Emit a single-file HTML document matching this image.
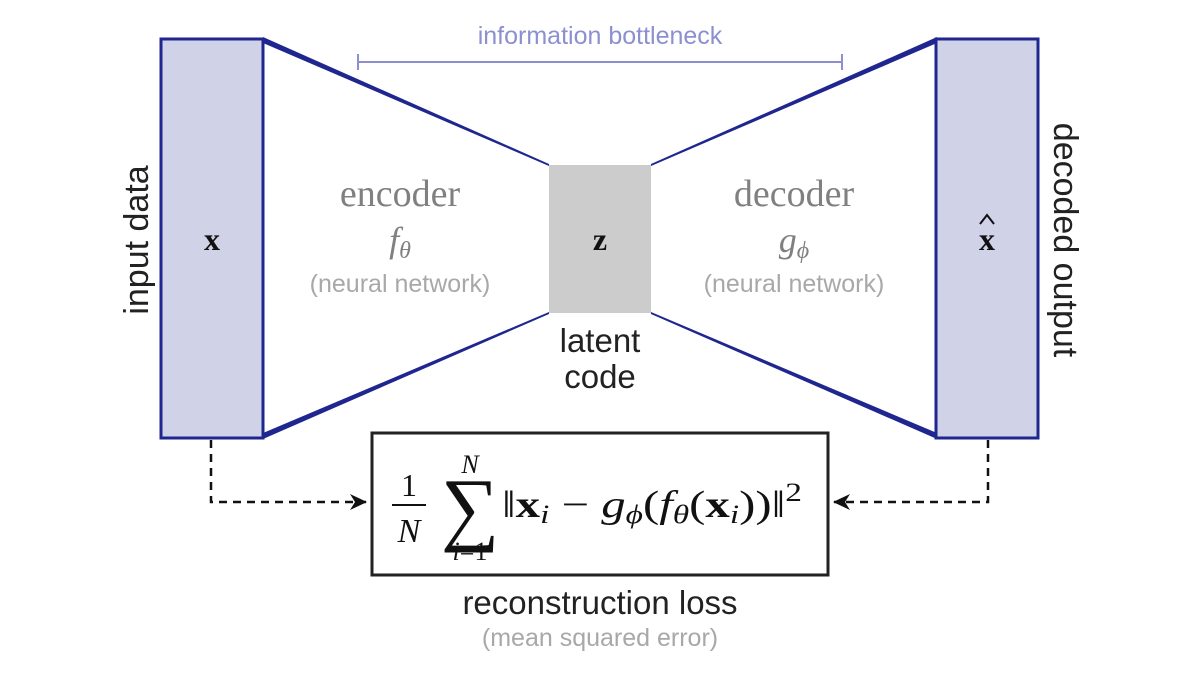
<!DOCTYPE html>
<html><head><meta charset="utf-8"><style>html,body{margin:0;padding:0;background:#fff}svg{display:block}</style></head>
<body>
<svg width="1200" height="675" viewBox="0 0 1200 675" xmlns="http://www.w3.org/2000/svg">
<defs>
<marker id="ah" markerWidth="18" markerHeight="16" refX="16" refY="8" orient="auto" markerUnits="userSpaceOnUse"><path d="M0,0 L17,8 L0,16 L5,8 Z" fill="#111"/></marker>
</defs>
<rect width="1200" height="675" fill="#fff"/>
<polygon points="263,40 549,163 549,313 263,436" fill="#fff"/>
<polygon points="263,37 549,164 549,166 263,43" fill="#1f2690"/>
<polygon points="263,433 549,312 549,314 263,439" fill="#1f2690"/>
<polygon points="937,37 651,164 651,166 937,43" fill="#1f2690"/>
<polygon points="937,433 651,312 651,314 937,439" fill="#1f2690"/>
<rect x="161" y="39" width="102" height="399" fill="#d0d2e8" stroke="#1f2690" stroke-width="3"/>
<rect x="936" y="39" width="102" height="399" fill="#d0d2e8" stroke="#1f2690" stroke-width="3"/>
<rect x="549" y="165" width="102" height="148" fill="#cccccc"/>
<line x1="358" y1="62" x2="842" y2="62" stroke="#8c8fd0" stroke-width="2"/>
<line x1="358" y1="54" x2="358" y2="70" stroke="#8c8fd0" stroke-width="2"/>
<line x1="842" y1="54" x2="842" y2="70" stroke="#8c8fd0" stroke-width="2"/>
<g font-family="Liberation Sans, sans-serif">
<text x="600" y="44" font-size="25" fill="#8c8fd0" text-anchor="middle">information bottleneck</text>
<text transform="translate(148,240) rotate(-90)" font-size="34" fill="#222" text-anchor="middle">input data</text>
<text transform="translate(1054,240) rotate(90)" font-size="34" fill="#222" text-anchor="middle">decoded output</text>
<text x="400" y="292" font-size="25" fill="#a8a8a8" text-anchor="middle">(neural network)</text>
<text x="794" y="292" font-size="25" fill="#a8a8a8" text-anchor="middle">(neural network)</text>
<text x="600" y="352" font-size="33" fill="#222" text-anchor="middle">latent</text>
<text x="600" y="388" font-size="33" fill="#222" text-anchor="middle">code</text>
<text x="600" y="614" font-size="33" fill="#222" text-anchor="middle">reconstruction loss</text>
<text x="600" y="646" font-size="25" fill="#a8a8a8" text-anchor="middle">(mean squared error)</text>
</g>
<g font-family="Liberation Serif, serif">
<text x="400" y="206" font-size="38" fill="#808080" text-anchor="middle">encoder</text>
<text x="400" y="252" font-size="36" fill="#808080" text-anchor="middle" font-style="italic">f<tspan font-size="24" dy="6">θ</tspan></text>
<text x="794" y="206" font-size="38" fill="#808080" text-anchor="middle">decoder</text>
<text x="794" y="252" font-size="36" fill="#808080" text-anchor="middle" font-style="italic">g<tspan font-size="24" dy="6">ϕ</tspan></text>
<text x="212" y="250" font-size="32" font-weight="bold" fill="#111" text-anchor="middle">x</text>
<text x="987" y="250" font-size="32" font-weight="bold" fill="#111" text-anchor="middle">x</text>
<path d="M980,224 L987,215 L994,224" fill="none" stroke="#111" stroke-width="2"/>
<text x="600" y="250" font-size="32" font-weight="bold" fill="#111" text-anchor="middle">z</text>
</g>
<rect x="372" y="433" width="456" height="142" fill="#fff" stroke="#222" stroke-width="3"/>
<g font-family="Liberation Serif, serif" fill="#111">
<text x="409" y="496" font-size="32" text-anchor="middle">1</text>
<line x1="392" y1="505" x2="426" y2="505" stroke="#111" stroke-width="2"/>
<text x="409" y="542" font-size="34" font-style="italic" text-anchor="middle">N</text>
<text x="470" y="473" font-size="26" font-style="italic" text-anchor="middle">N</text>
<text x="470" y="535" font-size="82" text-anchor="middle">∑</text>
<text x="470" y="560" font-size="26" text-anchor="middle"><tspan font-style="italic">i</tspan>=1</text>
<text x="502" y="517" font-size="38" textLength="300" lengthAdjust="spacingAndGlyphs">‖<tspan font-weight="bold">x</tspan><tspan font-size="26" font-style="italic" dy="6">i</tspan><tspan dy="-6"> − </tspan><tspan font-style="italic">g</tspan><tspan font-size="26" font-style="italic" dy="6">ϕ</tspan><tspan dy="-6">(</tspan><tspan font-style="italic">f</tspan><tspan font-size="26" font-style="italic" dy="6">θ</tspan><tspan dy="-6">(</tspan><tspan font-weight="bold">x</tspan><tspan font-size="26" font-style="italic" dy="6">i</tspan><tspan dy="-6">))‖</tspan><tspan font-size="26" dy="-16">2</tspan></text>
</g>
<path d="M211,440 V502 H366" fill="none" stroke="#111" stroke-width="2.5" stroke-dasharray="8,6" marker-end="url(#ah)"/>
<path d="M988,440 V502 H834" fill="none" stroke="#111" stroke-width="2.5" stroke-dasharray="8,6" marker-end="url(#ah)"/>
</svg>
</body></html>
